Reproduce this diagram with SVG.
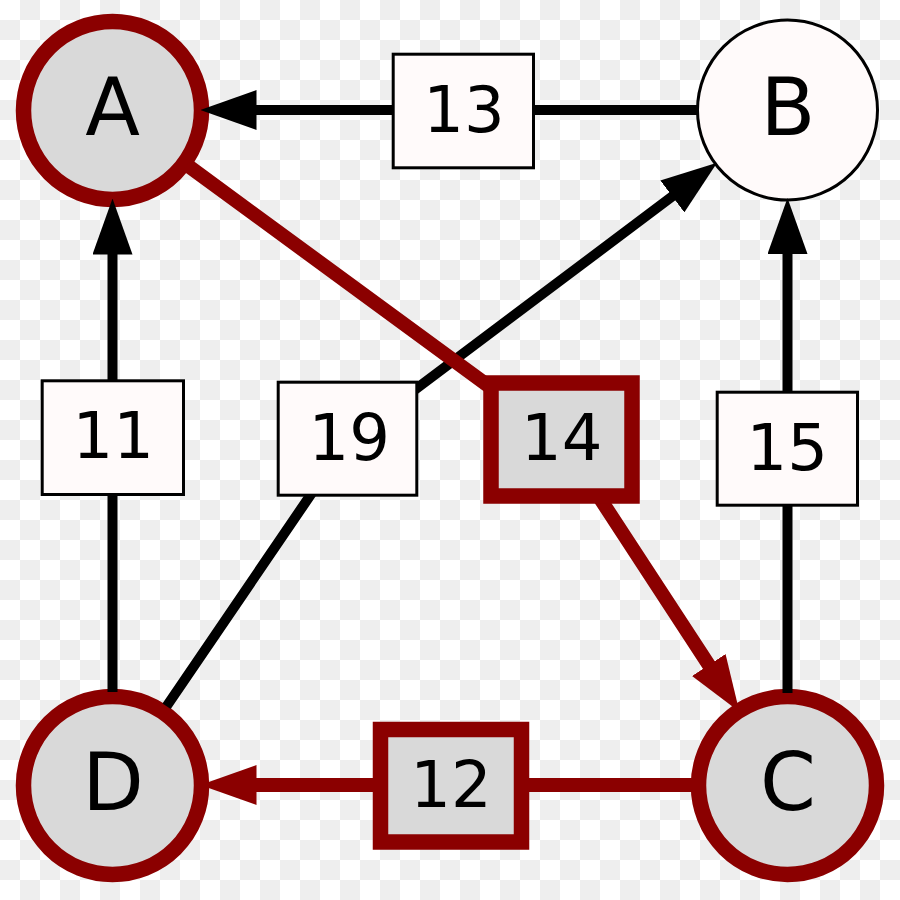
<svg xmlns="http://www.w3.org/2000/svg" width="900" height="900" viewBox="0 0 900 900">
<style>
.node-red{fill:#d9d9d9;stroke:#8b0000;stroke-width:15.5}
.node-plain{fill:#fffafa;stroke:#000;stroke-width:3}
.lbl{font-family:"DejaVu Sans","Liberation Sans",sans-serif;font-size:80px;text-anchor:middle;fill:#000}
.num{font-family:"DejaVu Sans","Liberation Sans",sans-serif;font-size:64px;text-anchor:middle;fill:#000}
.e-black{fill:none;stroke:#000;stroke-width:10}
.e-red{fill:none;stroke:#8b0000;stroke-width:14}
.box-plain{fill:#fffafa;stroke:#000;stroke-width:3}
.box-red{fill:#d9d9d9;stroke:#8b0000;stroke-width:15.5}
</style>
<defs>
<pattern id="checker" width="40" height="40" patternUnits="userSpaceOnUse">
<rect width="40" height="40" fill="#ffffff"/>
<rect x="20" y="0" width="20" height="20" fill="#eeeeee"/>
<rect x="0" y="20" width="20" height="20" fill="#eeeeee"/>
</pattern>
<marker id="ah-black" markerUnits="userSpaceOnUse" viewBox="0 -20 56 40" markerWidth="56" markerHeight="40" refX="28" refY="0" orient="auto">
<path d="M0,-20 L56,0 L0,20 Z" fill="#000"/>
</marker>
<marker id="ah-red" markerUnits="userSpaceOnUse" viewBox="0 -20 56 40" markerWidth="56" markerHeight="40" refX="28" refY="0" orient="auto">
<path d="M0,-20 L56,0 L0,20 Z" fill="#8b0000"/>
</marker>
</defs>
<rect width="900" height="900" fill="url(#checker)"/>

<g id="node-A"><circle class="node-red" cx="112.5" cy="110.5" r="89"/><text class="lbl" x="112.5" y="135">A</text></g>
<g id="node-B"><circle class="node-plain" cx="787.5" cy="110" r="90"/><text class="lbl" x="788" y="135">B</text></g>
<g id="node-C"><circle class="node-red" cx="787.5" cy="785.5" r="89"/><text class="lbl" x="788" y="810">C</text></g>
<g id="node-D"><circle class="node-red" cx="112.5" cy="785.5" r="89"/><text class="lbl" x="113" y="810">D</text></g>

<g id="connectors">
<path class="e-black" d="M697,110 L228.5,110" marker-end="url(#ah-black)"/>
<path class="e-black" d="M112.5,692 L112.5,226.5" marker-end="url(#ah-black)"/>
<path class="e-black" d="M787.5,693 L787.5,226" marker-end="url(#ah-black)"/>
<path class="e-black" d="M166.6,706.2 L348,440 L694.7,179.6" marker-end="url(#ah-black)"/>
<path class="e-red" d="M187,165 L561.5,439.5 L724.1,688.4" marker-end="url(#ah-red)"/>
<path class="e-red" d="M694.5,785 L228.5,785" marker-end="url(#ah-red)"/>
</g>

<g id="label-13"><rect class="box-plain" x="393.2" y="54.2" width="140.3" height="113.6"/><text class="num" x="464" y="131.7">13</text></g>
<g id="label-11"><rect class="box-plain" x="42.2" y="380.8" width="141.3" height="113.7"/><text class="num" x="113.3" y="458.3">11</text></g>
<g id="label-19"><rect class="box-plain" x="278.2" y="382.2" width="138.6" height="113"/><text class="num" x="349.3" y="460">19</text></g>
<g id="label-14"><rect class="box-red" x="491" y="383" width="141" height="113"/><text class="num" x="561.7" y="460">14</text></g>
<g id="label-15"><rect class="box-plain" x="717.2" y="392.2" width="140.3" height="113"/><text class="num" x="787.3" y="470">15</text></g>
<g id="label-12"><rect class="box-red" x="380.5" y="729.5" width="141" height="112.5"/><text class="num" x="451" y="806.7">12</text></g>
</svg>
